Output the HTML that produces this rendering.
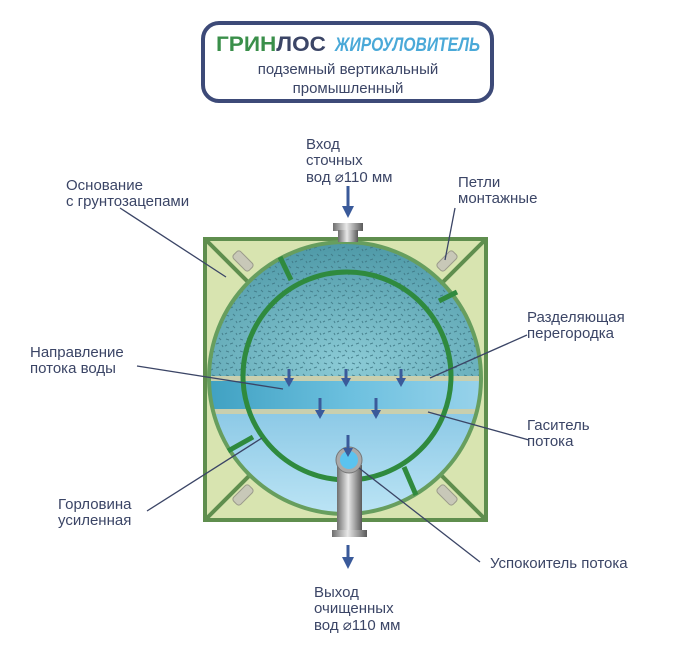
<!DOCTYPE html>
<html><head><meta charset="utf-8"><style>
html,body{margin:0;padding:0;background:#fff;width:700px;height:670px;overflow:hidden}
svg text{font-family:"Liberation Sans","DejaVu Sans",sans-serif;fill:#3b4566;font-size:15px}
</style></head><body>
<svg width="700" height="670" viewBox="0 0 700 670" xmlns="http://www.w3.org/2000/svg">
<defs>
<clipPath id="c"><circle cx="345" cy="378" r="136"/></clipPath>
<linearGradient id="bot" x1="0" y1="0" x2="0" y2="1"><stop offset="0" stop-color="#8cc9e6"/><stop offset="1" stop-color="#bfe6f6"/></linearGradient>
<linearGradient id="mid" x1="0" y1="0" x2="1" y2="0"><stop offset="0" stop-color="#3d9fc0"/><stop offset="0.5" stop-color="#6cc0df"/><stop offset="1" stop-color="#9ed5ec"/></linearGradient>
<radialGradient id="top" cx="0.5" cy="0.9" r="0.8"><stop offset="0" stop-color="#8ccbd6"/><stop offset="1" stop-color="#4f9aa8"/></radialGradient>
<pattern id="sp" width="14" height="12" patternUnits="userSpaceOnUse"><path d="M2 3l3 1M9 2l2 2M6 8l3-1M12 9l1 2M1 10l2-1" stroke="#3d7582" stroke-width="1"/></pattern>
<linearGradient id="pipe" x1="0" y1="0" x2="1" y2="0"><stop offset="0" stop-color="#6e6e6e"/><stop offset="0.45" stop-color="#e8e8e8"/><stop offset="1" stop-color="#5a5a5a"/></linearGradient>
</defs>
<rect x="203" y="23" width="289" height="78" rx="16" fill="#fff" stroke="#3d4a78" stroke-width="4"/>
<text x="216" y="51" textLength="110" lengthAdjust="spacingAndGlyphs" style="font-size:21px;font-weight:bold;fill:#3a8f4a">ГРИН<tspan style="fill:#3b4566">ЛОС</tspan></text>
<text x="335" y="51" textLength="145" lengthAdjust="spacingAndGlyphs" style="font-size:19px;font-weight:bold;font-style:italic;fill:#4aa9d8">ЖИРОУЛОВИТЕЛЬ</text>
<text x="348" y="74" text-anchor="middle" style="font-size:15px">подземный  вертикальный</text>
<text x="348" y="93" text-anchor="middle" style="font-size:15px">промышленный</text>
<rect x="205" y="239" width="281" height="281" fill="#d8e4b0" stroke="#5f8e4e" stroke-width="4"/>
<path d="M205 239L486 520M486 239L205 520" stroke="#5f8e4e" stroke-width="4"/>
<g fill="#c8c8b8" stroke="#9a9a8a" stroke-width="1">
<rect x="232" y="256" width="22" height="10" rx="3" transform="rotate(45 243 261)"/>
<rect x="436" y="256" width="22" height="10" rx="3" transform="rotate(-45 447 261)"/>
<rect x="232" y="490" width="22" height="10" rx="3" transform="rotate(-45 243 495)"/>
<rect x="436" y="490" width="22" height="10" rx="3" transform="rotate(45 447 495)"/>
</g>
<g clip-path="url(#c)">
<rect x="200" y="230" width="300" height="150" fill="url(#top)"/>
<rect x="200" y="230" width="300" height="150" fill="url(#sp)" opacity="0.8"/>
<rect x="200" y="378" width="300" height="36" fill="url(#mid)"/>
<rect x="200" y="412" width="300" height="110" fill="url(#bot)"/>
<rect x="200" y="376" width="300" height="5" fill="#c9cfae"/>
<rect x="200" y="409" width="300" height="5" fill="#c9cfae"/>
</g>
<circle cx="345" cy="378" r="136" fill="none" stroke="#679e5e" stroke-width="4"/>
<circle cx="347" cy="376" r="104" fill="none" stroke="#2f8a3e" stroke-width="5"/>
<g stroke="#2f8a3e" stroke-width="5">
<path d="M280 257L291 280M439 301L457 292M253 437L228 451M404 467L416 495"/>
</g>
<rect x="333" y="223" width="30" height="8" fill="url(#pipe)"/>
<rect x="338" y="230" width="20" height="12" fill="url(#pipe)"/>
<rect x="337" y="465" width="25" height="68" fill="url(#pipe)"/>
<rect x="332" y="530" width="35" height="7" fill="url(#pipe)"/>
<circle cx="349" cy="460" r="13" fill="#aaa" stroke="#777"/>
<circle cx="349" cy="460" r="9" fill="#5bc3ef"/>
<g stroke="#3a5a9a" stroke-width="3" fill="#3a5a9a">
<path d="M289 369v10M346 369v10M401 369v10M320 398v14M376 398v14M348 435v15M348 186v22M348 545v14"/>
</g>
<g fill="#3a5a9a">
<path d="M284 378h10l-5 9zM341 378h10l-5 9zM396 378h10l-5 9zM315 410h10l-5 9zM371 410h10l-5 9zM343 448h10l-5 9zM342 206h12l-6 12zM342 557h12l-6 12z"/>
</g>
<g stroke="#3b4566" stroke-width="1.3" fill="none">
<path d="M120 208L226 277"/>
<path d="M137 366L283 389"/>
<path d="M455 208L445 260"/>
<path d="M527 335L430 378"/>
<path d="M529 440L428 412"/>
<path d="M147 511L262 438"/>
<path d="M359 468L480 562"/>
</g>
<text x="306" y="149">Вход</text>
<text x="306" y="165">сточных</text>
<text x="306" y="182">вод  ⌀110 мм</text>
<text x="66" y="190">Основание</text>
<text x="66" y="206">с грунтозацепами</text>
<text x="458" y="187">Петли</text>
<text x="458" y="203">монтажные</text>
<text x="527" y="322">Разделяющая</text>
<text x="527" y="338">перегородка</text>
<text x="30" y="357">Направление</text>
<text x="30" y="373">потока воды</text>
<text x="527" y="430">Гаситель</text>
<text x="527" y="446">потока</text>
<text x="58" y="509">Горловина</text>
<text x="58" y="525">усиленная</text>
<text x="490" y="568">Успокоитель потока</text>
<text x="314" y="597">Выход</text>
<text x="314" y="613">очищенных</text>
<text x="314" y="630">вод  ⌀110 мм</text>
</svg>
</body></html>
